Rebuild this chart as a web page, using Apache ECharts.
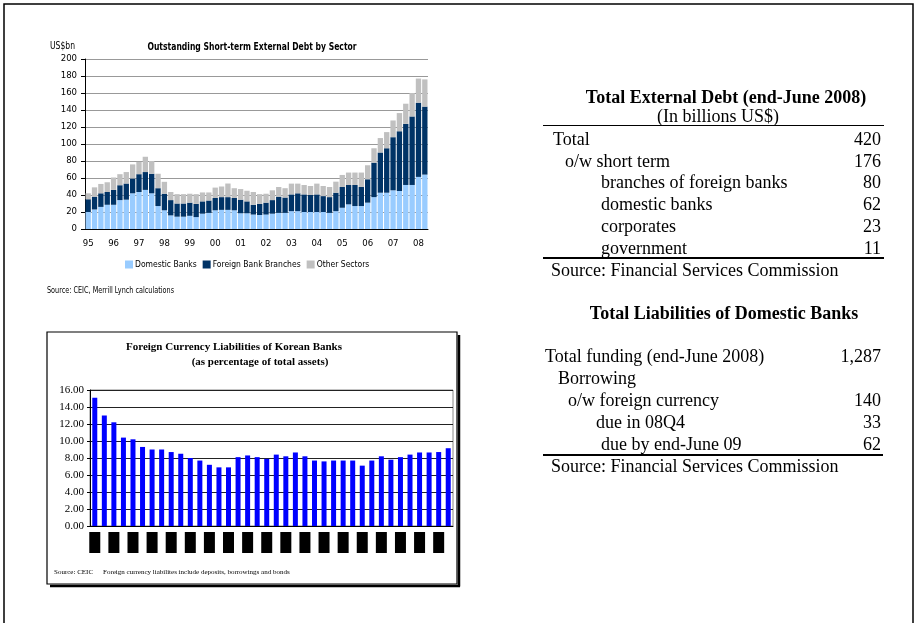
<!DOCTYPE html>
<html>
<head>
<meta charset="utf-8">
<script src="https://cdn.jsdelivr.net/npm/echarts@6/dist/echarts.min.js"></script>
<style>
  html, body { margin: 0; padding: 0; background: #fff; }
  #main { width: 917px; height: 623px; }
</style>
</head>
<body>
<div id="main"></div>
<script>
  // short-term external debt by sector, quarterly 95Q1 - 08Q2 (US$bn)
  var debtYears = ['95', '96', '97', '98', '99', '00', '01', '02', '03', '04', '05', '06', '07', '08']
  var domesticBanks = [20, 23, 26, 28.5, 28.5, 34, 34.5, 42, 43.5, 46, 42, 27, 22, 16, 14.5, 14.5, 15.5, 14, 18, 19, 22, 22.5, 22.5, 22, 18.5, 18.5, 17, 16.5, 17, 18, 19, 19, 21, 21, 20, 20, 20, 20, 19, 21, 25, 29, 27, 27, 31, 37.5, 42.7, 42.7, 45.5, 44.7, 51.8, 51.8, 61.3, 64]
  var foreignBranches = [15, 15, 16, 15, 17.5, 17.5, 19, 17.5, 21, 21, 23, 21, 19.5, 18, 15.5, 15.5, 15.5, 15.5, 14.5, 14.5, 14.5, 15, 15, 14.5, 16, 14, 11.5, 13, 14, 16, 19, 18, 19.7, 21, 20.7, 20, 20.7, 18.7, 18.5, 21.7, 24.4, 22.8, 24.8, 22.4, 27.5, 40.5, 47.3, 52.3, 62.5, 70.3, 71.9, 80.6, 87.3, 80]
  var otherSectors = [7, 11, 11, 11.5, 14.6, 13, 13.5, 16.5, 14.5, 18, 15, 17, 14, 9.5, 11, 11, 10.5, 11.5, 10.5, 9.5, 12.2, 12.5, 16, 11.5, 12.5, 12.5, 15, 11.5, 10.5, 11.5, 11.4, 11, 12.7, 11.4, 11.1, 10.6, 12.7, 11.9, 11.9, 13, 14.2, 14.6, 14.6, 17, 16.5, 17, 17, 19, 19.7, 21.4, 23.7, 27.6, 28.4, 32]

  // foreign currency liabilities of korean banks (% of total assets)
  var bankYears = ['99', '00', '01', '02', '03', '04', '05', '06', '07', '08']
  var fcLiabilities = [15.1, 13.0, 12.2, 10.4, 10.2, 9.3, 9.0, 9.0, 8.7, 8.5, 8.0, 7.7, 7.2, 6.9, 6.9, 8.1, 8.3, 8.1, 7.9, 8.4, 8.2, 8.65, 8.2, 7.7, 7.6, 7.7, 7.7, 7.7, 7.1, 7.7, 8.2, 7.8, 8.1, 8.4, 8.65, 8.65, 8.7, 9.15]

  // tables
  var debtRows = ['Total', 'o/w short term', 'branches of foreign banks', 'domestic banks', 'corporates', 'government']
  var debtVals = ['420', '176', '80', '62', '23', '11']
  var debtLevel = [0, 1, 2, 2, 2, 2]
  var liabRows = ['Total funding (end-June 2008)', 'Borrowing', 'o/w foreign currency', 'due in 08Q4', 'due by end-June 09']
  var liabVals = ['1,287', '', '140', '33', '62']
  var liabLevel = [0, 1, 2, 3, 4]

  var quarters = []
  debtYears.forEach(function (y) {
    for (var q = 1; q <= 4; q++) quarters.push(y + 'Q' + q)
  })
  quarters = quarters.slice(0, domesticBanks.length)
  var bankQuarters = []
  bankYears.forEach(function (y) {
    for (var q = 1; q <= 4; q++) bankQuarters.push(q + 'Q' + y)
  })
  bankQuarters = bankQuarters.slice(0, fcLiabilities.length)

  var narrow = "'Liberation Sans Narrow', 'DejaVu Sans Condensed', sans-serif"
  var serif = "'Liberation Serif', 'DejaVu Serif', serif"

  var graphics = []
  function txt (x, y, text, size, family, opts) {
    opts = opts || {}
    graphics.push({
      type: 'text', x: x, y: y, silent: true,
      scaleX: opts.sx || 1,
      style: {
        text: text, fill: '#000', fontSize: size, fontFamily: family,
        fontWeight: opts.bold ? 'bold' : 'normal',
        align: opts.align || 'left', verticalAlign: 'middle'
      }
    })
  }
  function line (x1, y1, x2, y2, w) {
    graphics.push({ type: 'line', silent: true, shape: { x1: x1, y1: y1, x2: x2, y2: y2 }, style: { stroke: '#000', lineWidth: w } })
  }

  // page frame
  graphics.push({ type: 'rect', silent: true, shape: { x: 4, y: 4, width: 909, height: 650 }, style: { fill: 'none', stroke: '#000', lineWidth: 1.5 } })
  // box of the second chart
  graphics.push({ type: 'rect', silent: true, shape: { x: 47, y: 332, width: 410, height: 252 }, style: { fill: 'none', stroke: '#000', lineWidth: 1.2 } })
  line(459, 335, 459, 586.5, 2.5)
  line(50, 586, 460, 586, 2.5)

  // top chart texts
  txt(50, 46, 'US$bn', 10, narrow, { sx: 0.85 })
  txt(252, 47, 'Outstanding Short-term External Debt by Sector', 10, narrow, { bold: true, align: 'center', sx: 0.85 })
  txt(47, 291, 'Source: CEIC, Merrill Lynch calculations', 8, narrow, { sx: 0.9 })

  // bottom chart texts
  txt(234, 347, 'Foreign Currency Liabilities of Korean Banks', 11, serif, { bold: true, align: 'center' })
  txt(260, 362, '(as percentage of total assets)', 11, serif, { bold: true, align: 'center' })
  txt(54, 572, 'Source: CEIC', 7, serif)
  txt(103, 572, 'Foreign currency liabilites include deposits, borrowings and bonds', 7, serif)

  // table 1
  txt(726, 98, 'Total External Debt (end-June 2008)', 18, serif, { bold: true, align: 'center' })
  txt(718, 117, '(In billions US$)', 18, serif, { align: 'center' })
  line(543, 125.5, 884, 125.5, 1)
  var indent1 = [553, 565, 601]
  debtRows.forEach(function (r, i) {
    var y = 140 + i * 21.8
    txt(indent1[debtLevel[i]], y, r, 18, serif)
    txt(881, y, debtVals[i], 18, serif, { align: 'right' })
  })
  line(543, 258, 884, 258, 2.2)
  txt(551, 271, 'Source: Financial Services Commission', 18, serif)

  // table 2
  txt(724, 314, 'Total Liabilities of Domestic Banks', 18, serif, { bold: true, align: 'center' })
  var indent2 = [545, 558, 568, 596, 601]
  liabRows.forEach(function (r, i) {
    var y = 357 + i * 22
    txt(indent2[liabLevel[i]], y, r, 18, serif)
    if (liabVals[i]) txt(881, y, liabVals[i], 18, serif, { align: 'right' })
  })
  line(543, 455, 883, 455, 2.2)
  txt(551, 467, 'Source: Financial Services Commission', 18, serif)

  var chart = echarts.init(document.getElementById('main'))
  var option = {
    backgroundColor: '#fff',
    animation: false,
    legend: {
      data: ['Domestic Banks', 'Foreign Bank Branches', 'Other Sectors'],
      left: 120,
      top: 255,
      icon: 'rect',
      itemWidth: 8,
      itemHeight: 8,
      itemGap: 6,
      textStyle: { fontSize: 8.5, fontFamily: narrow, color: '#000', padding: [0, 0, 0, -3] }
    },
    grid: [
      { left: 85, top: 59, width: 343, height: 170 },
      { left: 90, top: 390, width: 363, height: 136, show: true, borderColor: '#888', borderWidth: 1 }
    ],
    xAxis: [{
      type: 'category',
      gridIndex: 0,
      data: quarters,
      axisLine: { lineStyle: { color: '#000', width: 1 } },
      axisTick: { interval: function (i) { return i % 4 === 0 }, length: 4, lineStyle: { color: '#000' } },
      axisLabel: {
        interval: function (i) { return i % 4 === 0 },
        formatter: function (v) { return v.slice(0, 2) },
        fontSize: 9.5, fontFamily: narrow, color: '#000', margin: 10
      }
    }, {
      type: 'category',
      gridIndex: 1,
      data: bankQuarters,
      axisLine: { lineStyle: { color: '#000', width: 1 } },
      axisTick: { interval: 1, length: 3, lineStyle: { color: '#000' } },
      axisLabel: {
        interval: 1,
        margin: 6,
        formatter: function () { return '{box| }' },
        rich: { box: { width: 11, height: 21, backgroundColor: '#000' } }
      }
    }],
    yAxis: [{
      type: 'value',
      gridIndex: 0,
      min: 0, max: 200, interval: 20,
      axisLine: { show: true, lineStyle: { color: '#000' } },
      axisTick: { show: true, length: 4, lineStyle: { color: '#000' } },
      splitLine: { lineStyle: { color: '#999', width: 1 } },
      axisLabel: { fontSize: 9.5, fontFamily: narrow, color: '#000', margin: 8 }
    }, {
      type: 'value',
      gridIndex: 1,
      min: 0, max: 16, interval: 2,
      axisLine: { show: true, lineStyle: { color: '#000' } },
      axisTick: { show: true, length: 3, lineStyle: { color: '#000' } },
      splitLine: { lineStyle: { color: '#222', width: 1 } },
      axisLabel: {
        formatter: function (v) { return v.toFixed(2) },
        fontSize: 11, fontFamily: serif, color: '#000', margin: 6
      }
    }],
    series: [{
      name: 'Domestic Banks',
      type: 'bar',
      stack: 'debt',
      xAxisIndex: 0, yAxisIndex: 0,
      barCategoryGap: '16%',
      data: domesticBanks,
      itemStyle: { color: '#99CCFF' }
    }, {
      name: 'Foreign Bank Branches',
      type: 'bar',
      stack: 'debt',
      xAxisIndex: 0, yAxisIndex: 0,
      barCategoryGap: '16%',
      data: foreignBranches,
      itemStyle: { color: '#003366' }
    }, {
      name: 'Other Sectors',
      type: 'bar',
      stack: 'debt',
      xAxisIndex: 0, yAxisIndex: 0,
      barCategoryGap: '16%',
      data: otherSectors,
      itemStyle: { color: '#C0C0C0' }
    }, {
      name: 'FC liabilities',
      type: 'bar',
      xAxisIndex: 1, yAxisIndex: 1,
      barWidth: 5,
      data: fcLiabilities,
      itemStyle: { color: '#0000FF' }
    }],
    graphic: graphics
  }
  chart.setOption(option)
</script>
</body>
</html>
